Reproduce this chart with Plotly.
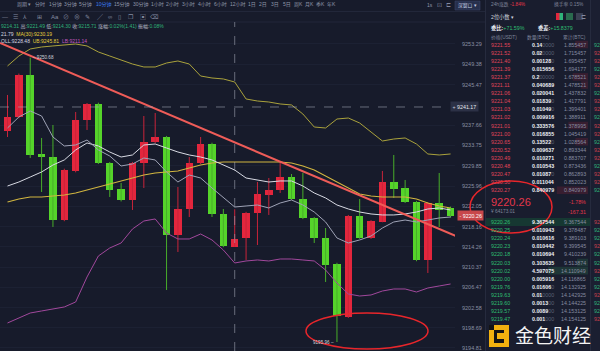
import plotly.graph_objects as go

W, H = 600, 351
FONT = "Liberation Sans, Noto Sans CJK SC, sans-serif"

# ---------------- data ----------------
IDX = list(range(1, 41))
OPEN = [9236.55, 9239.25, 9247.33, 9232.13, 9231.55, 9219.43, 9228.86, 9238.67, 9241.75, 9230.40,
        9225.40, 9223.28, 9230.40, 9234.44, 9235.40, 9216.55, 9221.55, 9230.40, 9234.05, 9220.59,
        9214.31, 9215.97, 9220.78, 9224.24, 9225.20, 9227.70, 9223.47, 9219.82, 9215.97, 9210.97,
        9200.77, 9220.20, 9215.97, 9219.05, 9226.74, 9225.59, 9222.90, 9211.74, 9222.70, 9221.74]
HIGH = [9243.48, 9247.60, 9250.68, 9235.21, 9237.71, 9229.30, 9240.21, 9241.94, 9242.00, 9230.60,
        9226.55, 9230.60, 9239.44, 9240.02, 9235.60, 9225.78, 9231.55, 9235.40, 9234.30, 9221.55,
        9221.49, 9221.00, 9226.74, 9227.51, 9230.40, 9228.28, 9228.47, 9220.00, 9217.89, 9211.20,
        9220.40, 9223.47, 9219.40, 9228.86, 9231.94, 9227.13, 9223.10, 9222.90, 9228.47, 9222.00]
LOW = [9235.40, 9239.00, 9231.36, 9224.82, 9218.09, 9219.20, 9228.60, 9236.75, 9230.20, 9223.86,
       9223.00, 9221.36, 9225.59, 9234.20, 9205.97, 9213.28, 9220.01, 9230.20, 9220.01, 9214.20,
       9214.30, 9211.74, 9214.62, 9220.40, 9224.63, 9223.30, 9219.60, 9215.01, 9207.51, 9195.96,
       9200.60, 9215.80, 9215.80, 9219.00, 9223.67, 9222.70, 9211.50, 9209.24, 9218.09, 9219.90]
CLOSE = [9239.25, 9247.33, 9231.94, 9231.55, 9219.43, 9229.05, 9238.67, 9241.75, 9230.40, 9225.20,
         9223.28, 9230.40, 9234.44, 9235.40, 9216.55, 9221.55, 9230.40, 9234.05, 9220.59, 9214.43,
         9215.71, 9220.78, 9224.43, 9225.20, 9227.70, 9223.47, 9219.82, 9215.97, 9210.78, 9200.97,
         9220.20, 9215.97, 9219.24, 9226.74, 9225.40, 9222.90, 9211.74, 9222.70, 9221.36, 9220.26]

BOLL_UB = [9249.06, 9250.98, 9252.33, 9252.71, 9252.91, 9253.10, 9253.29, 9252.91, 9251.75, 9250.98,
           9250.21, 9249.44, 9248.87, 9248.87, 9249.63, 9250.02, 9249.44, 9247.13, 9246.75, 9246.56,
           9245.98, 9242.71, 9242.32, 9242.13, 9241.75, 9241.56, 9239.82, 9237.32, 9237.13, 9238.86,
           9239.05, 9238.09, 9236.36, 9234.63, 9235.01, 9235.21, 9234.05, 9232.13, 9231.94, 9232.13]
BOLL_MID = [9225.97, 9226.74, 9227.70, 9228.67, 9230.01, 9230.98, 9232.90, 9234.25, 9233.67, 9232.51,
            9231.55, 9231.94, 9233.86, 9234.05, 9233.28, 9232.51, 9231.94, 9231.55, 9230.98, 9230.01,
            9229.05, 9227.51, 9227.13, 9226.74, 9226.94, 9226.94, 9225.97, 9224.63, 9223.67, 9222.32,
            9221.55, 9220.97, 9220.59, 9220.40, 9220.40, 9220.59, 9220.97, 9221.55, 9221.74, 9221.36]
BOLL_LB = [9199.62, 9200.58, 9201.54, 9201.93, 9202.31, 9202.70, 9203.66, 9208.47, 9212.51, 9214.05,
           9215.01, 9217.70, 9219.24, 9219.63, 9216.93, 9215.78, 9215.78, 9216.74, 9215.59, 9213.66,
           9211.16, 9211.55, 9211.74, 9211.55, 9211.93, 9211.93, 9211.74, 9211.55, 9209.81, 9207.31,
           9205.20, 9204.81, 9205.01, 9205.77, 9206.16, 9206.16, 9205.58, 9206.35, 9206.74, 9207.12]
MA10 = [9237.13, 9239.25, 9240.40, 9239.44, 9235.40, 9233.67, 9233.86, 9234.82, 9232.90, 9231.74,
        9229.82, 9230.21, 9231.36, 9230.98, 9228.67, 9226.74, 9228.09, 9227.51, 9225.59, 9223.67,
        9221.93, 9222.13, 9222.32, 9221.74, 9222.70, 9223.28, 9222.32, 9220.97, 9219.05, 9215.97,
        9215.01, 9215.59, 9216.35, 9217.89, 9219.05, 9219.43, 9219.05, 9219.43, 9219.82, 9220.01]
MA30 = [9222.90, 9223.47, 9223.86, 9223.86, 9224.05, 9224.24, 9224.63, 9225.20, 9225.78, 9226.36,
        9226.94, 9227.51, 9228.09, 9228.47, 9228.67, 9228.86, 9229.44, 9230.01, 9230.40, 9230.59,
        9230.59, 9230.59, 9230.59, 9230.59, 9230.59, 9230.40, 9229.82, 9229.05, 9227.90, 9226.74,
        9225.59, 9224.43, 9224.05, 9223.86, 9223.86, 9223.86, 9223.47, 9222.70, 9222.13, 9221.74]
TREND_X = [0.34, 40.66]
TREND_Y = [9253.48, 9216.16]

AXIS_TICKS = [9194.81, 9198.69, 9202.58, 9206.47, 9210.37, 9214.26, 9218.16, 9222.05,
              9225.96, 9229.85, 9233.75, 9237.66, 9245.47, 9249.38, 9253.29]
CROSS_IDX = 21
CROSS_PRICE = 9241.17
LAST_PRICE = 9220.26
HOVER = 20  # hovered candle (0-based)
INFO_CHANGE = "0.02%(1.41)"
INFO_AMPL = "0.08%"
MA10_TAIL, MA30_VAL = "21.79", 9230.19
BOLL_TAIL, UB_VAL, LB_VAL = "OLL:9228.48", 9245.81, 9211.14

TABS = ["周期 ▾", "分时", "1分钟", "3分钟", "5分钟", "10分钟", "15分钟", "30分钟", "1小时", "2小时",
        "3小时", "4小时", "6小时", "12小时", "1日", "2日", "3日", "5日", "周K", "月K", "季K", "年K"]
TAB_SELECTED = "10分钟"
ICONS = ["—", "☰", "⅄", "⊞", "Aa", "⊘", "⊗", "✎", "╱", "∞", "▯", "❐", "▣", "⌫"]

ASK_PRICE = ["9221.55", "9221.52", "9221.40", "9221.39", "9221.37", "9221.11", "9221.06", "9221.04",
             "9221.03", "9221.02", "9221.01", "9221.00", "9220.65", "9220.52", "9220.49", "9220.48",
             "9220.47", "9220.30", "9220.27"]
ASK_AMT = [0.140000, 0.020000, 0.001280, 0.015656, 0.200000, 0.040689, 0.020041, 0.018390,
           0.010490, 0.009916, 0.333576, 0.016855, 0.135220, 0.009637, 0.010271, 0.010543,
           0.010870, 0.011044, 0.840979]
ASK_CUM = [1.855457, 1.715457, 1.695457, 1.694177, 1.678521, 1.478521, 1.437832, 1.417791,
           1.399401, 1.388911, 1.378995, 1.045419, 1.028564, 0.893344, 0.883707, 0.873436,
           0.862893, 0.852023, 0.840979]
BID_PRICE = ["9220.26", "9220.25", "9220.24", "9220.23", "9220.18", "9220.03", "9220.02", "9220.00",
             "9219.76", "9219.63", "9219.60", "9219.57", "9219.47"]
BID_AMT = [9.367544, 0.010943, 0.010616, 0.010442, 0.010694, 0.103635, 4.597075, 0.005916,
           0.016060, 0.010000, 0.001300, 0.008900, 0.001000]
BID_CUM = [9.367544, 9.378487, 9.389103, 9.399545, 9.410239, 9.513874, 14.110949, 14.116865,
           14.132925, 14.142925, 14.144225, 14.153125, 14.154125]
CNY_PRICE = "64173.01"
CHG_PCT, CHG_ABS = "-1.78%", "-167.31"
BID_RATIO, BID_DIFF = "+71.59%", "+15.8379"

# ---------------- styles ----------------
BG = "#171b2b"
PANEL = "#191d2e"
UP = "#e3263d"
DOWN = "#55d42a"
UP_WICK = "#c9243a"
DOWN_WICK = "#48ad2a"
GRAY = "#8e94a8"


def X(px):
    return px / W


def Y(py):
    return 1 - py / H


fig = go.Figure()

# candle wicks
for up, col in [(True, UP_WICK), (False, DOWN_WICK)]:
    wx, wy = [], []
    for i, o, h, l, c in zip(IDX, OPEN, HIGH, LOW, CLOSE):
        if (c > o) == up:
            wx += [i, i, None]
            wy += [l, h, None]
    fig.add_trace(go.Scatter(x=wx, y=wy, mode="lines", line=dict(color=col, width=1),
                             hoverinfo="skip", showlegend=False))

# candle bodies
bases = [min(o, c) for o, c in zip(OPEN, CLOSE)]
heights = [max(abs(c - o), 0.2) for o, c in zip(OPEN, CLOSE)]
colors = [UP if c > o else DOWN for o, c in zip(OPEN, CLOSE)]
fig.add_trace(go.Bar(x=IDX, y=heights, base=bases, width=0.66, marker=dict(color=colors, line=dict(width=0)),
                     hoverinfo="skip", showlegend=False))

for ys, col, w in [(BOLL_UB, "#aaa23c", 1), (MA30, "#d2b640", 1.1), (BOLL_MID, "#d8dae3", 1),
                   (MA10, "#9fa3b6", 1), (BOLL_LB, "#a1489c", 1)]:
    fig.add_trace(go.Scatter(x=IDX, y=ys, mode="lines", line=dict(color=col, width=w),
                             hoverinfo="skip", showlegend=False))
fig.add_trace(go.Scatter(x=TREND_X, y=TREND_Y, mode="lines", line=dict(color="#ef5c58", width=2),
                         hoverinfo="skip", showlegend=False))

shapes = []
ann = []


def T(x, y, text, size=5, color=GRAY, xa="left", ya="middle", **kw):
    ann.append(dict(x=X(x), y=Y(y), xref="paper", yref="paper", text=text, showarrow=False,
                    xanchor=xa, yanchor=ya, font=dict(size=size, color=color, family=FONT), **kw))


def R(x0, y0, x1, y1, fill, line=None, layer="below"):
    shapes.append(dict(type="rect", xref="paper", yref="paper", x0=X(x0), x1=X(x1), y0=Y(y1), y1=Y(y0),
                       fillcolor=fill, line=dict(width=0) if line is None else line, layer=layer))


def L(x0, y0, x1, y1, color, width=1, dash="solid"):
    shapes.append(dict(type="line", xref="paper", yref="paper", x0=X(x0), x1=X(x1), y0=Y(y0), y1=Y(y1),
                       line=dict(color=color, width=width, dash=dash)))


# panels
R(485, 0, 590, 351, PANEL)
R(590, 0, 600, 351, "#1b1f31")
L(485.5, 0, 485.5, 351, "#262b3e")
L(590.5, 0, 590.5, 351, "#262b3e")
L(0, 11.5, 485, 11.5, "#22273a")
L(0, 22, 485, 22, "#22273a")

# crosshair
shapes.append(dict(type="line", xref="x", yref="paper", x0=CROSS_IDX, x1=CROSS_IDX, y0=0, y1=Y(22),
                   line=dict(color="rgba(170,175,190,0.55)", width=1, dash="dash")))
shapes.append(dict(type="line", xref="paper", yref="y", x0=0, x1=X(450), y0=CROSS_PRICE, y1=CROSS_PRICE,
                   line=dict(color="rgba(170,175,190,0.55)", width=1, dash="dash")))

# toolbar tabs
TAB_X = [15, 33, 47, 62, 77, 94, 112, 131, 149, 164, 180, 196, 212, 228, 246, 257, 269, 281, 292, 303, 314, 325]
for t, tx in zip(TABS, TAB_X):
    T(tx, 5, t, size=5, color="#3b7cf0" if t == TAB_SELECTED else "#9097aa")
ICON_X = [0, 11, 21, 35, 49, 61, 72, 83, 95, 106, 116, 126, 138, 148]
for ic, ix in zip(ICONS, ICON_X):
    T(ix, 16.5, ic, size=6, color="#858ba0")
T(425, 5, "1s", size=5, color="#9097aa")
T(435, 5, "⊡", size=6, color="#858ba0")
T(444, 5, "⊏", size=6, color="#858ba0")
R(455, 1, 480, 10, "#27304d", line=dict(color="#3a4566", width=0.6))
T(467.5, 5.5, "深窗口 ▾", size=4.8, color="#c5cbe0", xa="center")

# info rows for hovered candle (left part scrolled off in the screenshot)
V = "#2fb37a"
K = "#b9bdca"
row1 = (f"<span style='color:{V}'>{OPEN[HOVER]:.2f}</span> "
        f"<span style='color:{K}'>高:</span><span style='color:{V}'>{HIGH[HOVER]:.2f}</span> "
        f"<span style='color:{K}'>低:</span><span style='color:{V}'>{LOW[HOVER]:.2f}</span> "
        f"<span style='color:{K}'>收:</span><span style='color:{V}'>{CLOSE[HOVER]:.2f}</span> "
        f"<span style='color:{K}'>涨幅:</span><span style='color:{V}'>{INFO_CHANGE}</span> "
        f"<span style='color:{K}'>振幅:</span><span style='color:{V}'>{INFO_AMPL}</span>")
T(-1, 26, row1, size=5)
row2 = (f"<span style='color:#d6d8e2'>{MA10_TAIL}</span>  "
        f"<span style='color:#e6cf3c'>MA(30):{MA30_VAL:.2f}</span>")
T(-1, 33.5, row2, size=5)
row3 = (f"<span style='color:#d6d8e2'>{BOLL_TAIL}</span>  "
        f"<span style='color:#e6cf3c'>UB:{UB_VAL:.2f}</span>  "
        f"<span style='color:#c25ac0'>LB:{LB_VAL:.2f}</span>")
T(-1, 41, row3, size=5)

# high / low markers
ann.append(dict(x=3, y=HIGH[2], xref="x", yref="y", text=f"– {HIGH[2]:.2f}", showarrow=False,
                xanchor="left", yanchor="middle", xshift=1, font=dict(size=4.6, color="#d0d3dc", family=FONT)))
ann.append(dict(x=30, y=LOW[29], xref="x", yref="y", text=f"{LOW[29]:.2f} –", showarrow=False,
                xanchor="right", yanchor="middle", xshift=-1, font=dict(size=4.6, color="#d0d3dc", family=FONT)))

# axis labels: crosshair and last price
ann.append(dict(x=X(450), y=CROSS_PRICE, xref="paper", yref="y", text="+ <span style='color:#e6e8ee'>" +
                f"{CROSS_PRICE:.2f}</span>", showarrow=False, xanchor="left", yanchor="middle",
                bgcolor="#2c3146", borderpad=1.5, font=dict(size=5.3, color="#c9cdd8", family=FONT)))
ann.append(dict(x=X(457), y=LAST_PRICE, xref="paper", yref="y", text=f"- {LAST_PRICE:.2f}", showarrow=False,
                xanchor="left", yanchor="middle", bgcolor="#c8474b", borderpad=1.5,
                font=dict(size=5.3, color="#ffffff", family=FONT)))

# right panel header
T(489, 5, "24h涨跌 <span style='color:#e3364a'>-1.84%</span>", size=4.8, color="#7f859a")
T(586, 5, "换手率 0.15%", size=4.8, color="#7f859a", xa="right")
T(489, 16.5, "2位小数 ▾", size=5.2, color="#d0d4de")
R(556, 13, 563, 20, "#e3263d")
R(559.5, 13, 563, 20, "#2fb37a")
R(566, 13, 573, 20, "#2a6b4e")
R(576, 13, 583, 20, "#3a3f52")
T(588, 16.5, "⊏", size=6, color="#858ba0", xa="right")
T(489, 28, f"<b>委比:</b><span style='color:#2fbf71'>{BID_RATIO}</span>", size=5.3, color="#e6e8ee")
T(536, 28, f"<b>委差:</b><span style='color:#2fbf71'>{BID_DIFF}</span>", size=5.3, color="#e6e8ee")
T(489, 37, "价格(USDT)", size=4.8, color="#7f859a")
T(552, 37, "数量(BTC)", size=4.8, color="#7f859a", xa="right")
T(588, 37, "累计(BTC)", size=4.8, color="#7f859a", xa="right")


def amt_html(a):
    s = f"{a:.6f}"
    t = s.rstrip("0")
    z = s[len(t):]
    return f"<b><span style='color:#eceef3'>{t}</span></b><span style='color:#5d6376'>{z}</span>"


def bar_w(a):
    return min(40.0, 34 * a ** 0.5)


STEP = 8.1
for k, (p, a, c) in enumerate(zip(ASK_PRICE, ASK_AMT, ASK_CUM)):
    y = 44.5 + STEP * k
    w = bar_w(a)
    if w > 6:
        R(588 - w, y - 3.8, 588, y + 3.8, "rgba(227,38,61,0.16)")
    T(489, y, p, size=5.3, color="#e0455a")
    T(530, y, amt_html(a), size=5.3)
    T(588, y, f"{c:.6f}", size=5.3, color="#868ca0", xa="right")
    T(592, y, p[:2], size=5.3, color="#c8404f" if k % 3 else "#2fb37a")

T(489, 202.5, f"{LAST_PRICE:.2f}", size=11, color="#e3364a")
T(489, 211.5, f"¥ {CNY_PRICE}", size=4.8, color="#7f859a")
T(588, 201.5, CHG_PCT, size=5.3, color="#e3364a", xa="right")
T(588, 211.5, CHG_ABS, size=5.3, color="#e3364a", xa="right")

for k, (p, a, c) in enumerate(zip(BID_PRICE, BID_AMT, BID_CUM)):
    y = 222 + STEP * k
    if k == 0:
        R(486, y - 4, 590, y + 4, "#163832")
    else:
        w = bar_w(a)
        if w > 6:
            R(588 - w, y - 3.8, 588, y + 3.8, "rgba(60,200,110,0.15)")
    T(489, y, p, size=5.3, color="#2fbf71")
    T(530, y, amt_html(a), size=5.3)
    T(588, y, f"{c:.6f}", size=5.3, color="#868ca0", xa="right")
    T(592, y, p[:2], size=5.3, color="#2fb37a" if k % 3 else "#c8404f")

# ellipses
shapes.append(dict(type="circle", xref="paper", yref="paper", x0=X(470), x1=X(552), y0=Y(233), y1=Y(181),
                   line=dict(color="#e8262b", width=1.5), layer="above"))
shapes.append(dict(type="circle", xref="paper", yref="paper", x0=X(306), x1=X(428), y0=Y(349), y1=Y(313),
                   line=dict(color="#e8262b", width=1.5), layer="above"))

# watermark logo
R(489, 325, 509, 347, "#f2b10f", layer="above")
R(494, 330, 504, 343, "#141414", layer="above")
R(497, 333, 509, 339, "#f2b10f", layer="above")
R(489, 325, 494, 330, "#141414", layer="above")
T(513, 336, "金色财经", size=19, color="#f4f4f4")

fig.update_layout(
    width=W, height=H, margin=dict(l=0, r=0, t=0, b=0),
    paper_bgcolor=BG, plot_bgcolor=BG, showlegend=False, bargap=0,
    shapes=shapes, annotations=ann,
    xaxis=dict(domain=[0, X(455)], range=[0.34, 40.39], visible=False, fixedrange=True),
    yaxis=dict(domain=[0, Y(22)], range=[9194.23, 9257.52], side="right", tickvals=AXIS_TICKS,
               ticktext=[f"{v:.2f}" for v in AXIS_TICKS], tickfont=dict(size=5.5, color="#8a90a3", family=FONT),
               showgrid=True, gridcolor="#1c2133", zeroline=False, showline=False, ticks="",
               ticklabelstandoff=6, automargin=False, fixedrange=True),
    font=dict(family=FONT),
)

fig.write_html("out.html")
